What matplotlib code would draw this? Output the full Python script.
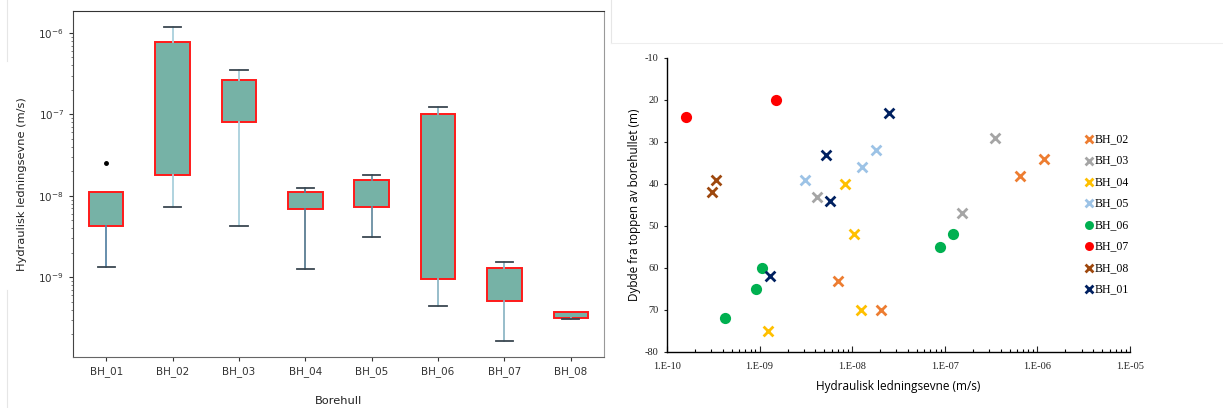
import numpy as np
import matplotlib.pyplot as plt
from matplotlib.ticker import FixedLocator, LogLocator, NullFormatter, FuncFormatter
from matplotlib.lines import Line2D

# Boxplot data
boreholes = ['BH_01', 'BH_02', 'BH_03', 'BH_04', 'BH_05', 'BH_06', 'BH_07', 'BH_08']
whisker_low = [1.32e-9, 7.26e-9, 4.28e-9, 1.25e-9, 3.11e-9, 4.39e-10, 1.66e-10, 3.10e-10]
q1 = [4.28e-9, 1.81e-8, 8.0e-8, 6.9e-9, 7.3e-9, 9.4e-10, 5.05e-10, 3.18e-10]
q3 = [1.13e-8, 7.8e-7, 2.65e-7, 1.13e-8, 1.56e-8, 1.02e-7, 1.30e-9, 3.72e-10]
whisker_high = [1.13e-8, 1.19e-6, 3.55e-7, 1.24e-8, 1.81e-8, 1.25e-7, 1.53e-9, 3.72e-10]
outliers = [[2.54e-8], [], [], [], [], [], [], []]
whisker_colors = ['#5a86a6', '#a9d0dc', '#a9d0dc', '#5b7d92', '#6a8fa3', '#8fb7c6', '#8fb7c6', '#8fb7c6']

# Scatter data: conductivity (m/s) and depth (m)
bh02_k = [1.17e-6, 6.5e-7, 7.1e-9, 2.03e-8]
bh02_d = [34, 38, 63, 70]
bh03_k = [3.5e-7, 1.53e-7, 4.2e-9]
bh03_d = [29, 47, 43]
bh04_k = [8.4e-9, 1.04e-8, 1.25e-8, 1.24e-9]
bh04_d = [40, 52, 70, 75]
bh05_k = [3.09e-9, 1.28e-8, 1.80e-8]
bh05_d = [39, 36, 32]
bh06_k = [1.06e-9, 9.06e-10, 4.26e-10, 1.22e-7, 8.9e-8]
bh06_d = [60, 65, 72, 52, 55]
bh07_k = [1.62e-10, 1.50e-9]
bh07_d = [24, 20]
bh08_k = [3.4e-10, 3.06e-10]
bh08_d = [39, 42]
bh01_k = [2.52e-8, 5.2e-9, 5.8e-9, 1.28e-9]
bh01_d = [23, 33, 44, 62]

fig = plt.figure(figsize=(12.23, 4.08), dpi=100)

# ---- left: boxplot ----
ax1 = fig.add_axes([0.0597, 0.125, 0.4342, 0.848])
stats = []
for i, name in enumerate(boreholes):
    stats.append({'label': name, 'med': q1[i], 'q1': q1[i], 'q3': q3[i],
                  'whislo': whisker_low[i], 'whishi': whisker_high[i],
                  'fliers': outliers[i]})
bp = ax1.bxp(stats, positions=np.arange(len(boreholes)), widths=0.52,
             patch_artist=True,
             boxprops=dict(facecolor='#76b2a6', edgecolor='#ff1a1a', linewidth=1.4),
             medianprops=dict(linewidth=0),
             capprops=dict(color='#3a4750', linewidth=1.3),
             whiskerprops=dict(linewidth=1.3),
             flierprops=dict(marker='o', markerfacecolor='black', markeredgecolor='black', markersize=2.5))
for i, c in enumerate(whisker_colors):
    bp['whiskers'][2 * i].set_color(c)
    bp['whiskers'][2 * i + 1].set_color(c)
for i in range(len(boreholes)):
    if whisker_high[i] <= q3[i]:
        bp['caps'][2 * i + 1].set_visible(False)
ax1.set_yscale('log')
ax1.set_ylim(1.05e-10, 1.86e-6)
ax1.set_xlim(-0.5, len(boreholes) - 0.5)
ax1.yaxis.set_major_locator(FixedLocator([1e-9, 1e-8, 1e-7, 1e-6]))
ax1.yaxis.set_minor_locator(LogLocator(base=10, subs=np.arange(2, 10)))
ax1.yaxis.set_minor_formatter(NullFormatter())
ax1.tick_params(axis='both', labelsize=7.5, colors='#333333', length=3, width=0.8)
ax1.tick_params(axis='y', which='minor', length=1.8, width=0.6, colors='#666666')
ax1.set_ylabel('Hydraulisk ledningsevne (m/s)', fontsize=8.2, color='#222222', labelpad=8)
ax1.set_xlabel('Borehull', fontsize=8.2, color='#222222', labelpad=14)
ax1.spines['top'].set_color('#333333')
ax1.spines['left'].set_color('#444444')
ax1.spines['bottom'].set_color('#666666')
ax1.spines['right'].set_color('#999999')

# ---- right: scatter ----
ax2 = fig.add_axes([0.5454, 0.1373, 0.3786, 0.7206])
xs = dict(marker='x', s=50, linewidths=2.0)
ax2.scatter(bh02_k, bh02_d, color='#ed7d31', label='BH_02', **xs)
ax2.scatter(bh03_k, bh03_d, color='#a5a5a5', label='BH_03', **xs)
ax2.scatter(bh04_k, bh04_d, color='#ffc000', label='BH_04', **xs)
ax2.scatter(bh05_k, bh05_d, color='#9dc3e6', label='BH_05', **xs)
ax2.scatter(bh06_k, bh06_d, color='#00b050', marker='o', s=65, label='BH_06', linewidths=0)
ax2.scatter(bh07_k, bh07_d, color='#ff0000', marker='o', s=65, label='BH_07', linewidths=0)
ax2.scatter(bh08_k, bh08_d, color='#9e480e', label='BH_08', **xs)
ax2.scatter(bh01_k, bh01_d, color='#002060', label='BH_01', **xs)
ax2.set_xscale('log')
ax2.set_xlim(1e-10, 1e-5)
ax2.set_ylim(80, 10)
ax2.set_yticks([10, 20, 30, 40, 50, 60, 70, 80])
ax2.set_yticklabels(['-10', '20', '30', '40', '50', '60', '70', '-80'])
ax2.xaxis.set_major_locator(FixedLocator([1e-10, 1e-9, 1e-8, 1e-7, 1e-6, 1e-5]))
ax2.xaxis.set_major_formatter(FuncFormatter(lambda v, p: '1.E%03d' % round(np.log10(v))))
ax2.xaxis.set_minor_locator(LogLocator(base=10, subs=np.arange(2, 10)))
ax2.xaxis.set_minor_formatter(NullFormatter())
for lab in ax2.get_xticklabels() + ax2.get_yticklabels():
    lab.set_family('Liberation Serif')
ax2.tick_params(axis='x', which='major', direction='in', length=4, width=0.8, labelsize=7.5, pad=7, colors='#222222')
ax2.tick_params(axis='x', which='minor', direction='in', length=2.5, width=0.8)
ax2.tick_params(axis='y', direction='out', length=2.5, width=0.8, labelsize=7.5, colors='#222222')
for s in ['top', 'right']:
    ax2.spines[s].set_visible(False)
for s in ['left', 'bottom']:
    ax2.spines[s].set_color('black')
    ax2.spines[s].set_linewidth(1.0)
ax2.set_xlabel('Hydraulisk ledningsevne (m/s)', fontsize=8.5, family='Open Sans', labelpad=7)
ax2.set_ylabel('Dybde fra toppen av borehullet (m)', fontsize=8.5, family='Open Sans', labelpad=3)
ax2.legend(loc='upper left', bbox_to_anchor=(0.884, 0.685), bbox_transform=fig.transFigure,
           frameon=False, handlelength=0.6, handletextpad=0.15, labelspacing=0.8,
           borderaxespad=0, prop={'family': 'Liberation Serif', 'size': 8.5},
           markerscale=0.8)

# faint frame lines from the original screenshot
fig.add_artist(Line2D([0.0057, 0.0057], [0.85, 1.0], color='#e6e6e6', lw=0.8))
fig.add_artist(Line2D([0.0057, 0.0057], [0.0, 0.29], color='#e6e6e6', lw=0.8))
fig.add_artist(Line2D([0.4995, 0.4995], [0.895, 1.0], color='#e6e6e6', lw=0.8))
fig.add_artist(Line2D([0.4995, 1.0], [0.895, 0.895], color='#eeeeee', lw=0.8))

fig.savefig('out.png', dpi=100)
